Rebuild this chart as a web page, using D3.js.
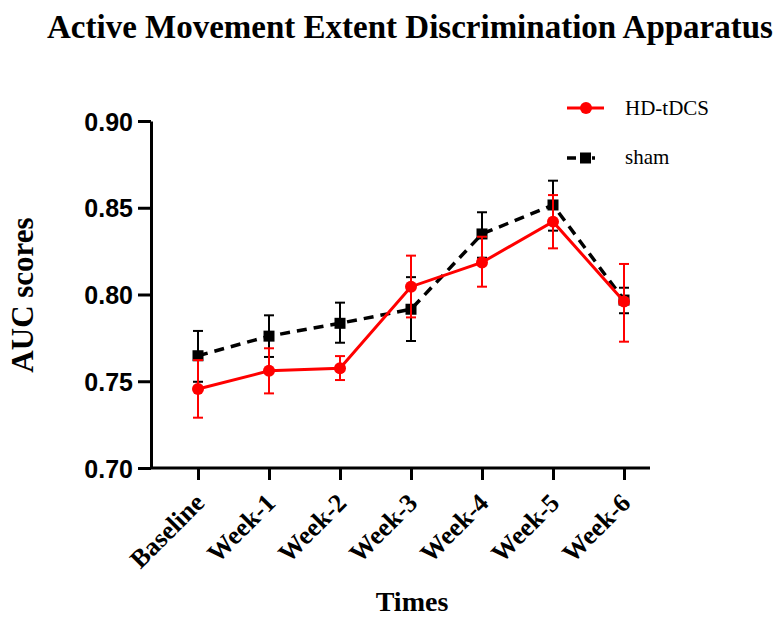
<!DOCTYPE html>
<html>
<head>
<meta charset="utf-8">
<script src="https://cdn.jsdelivr.net/npm/d3@7"></script>
<style>
body { margin: 0; background: #fff; }
</style>
</head>
<body>
<div id="vis"></div>
<script>
var w = 782;
var h = 618;

// data
var times = ["Baseline", "Week-1", "Week-2", "Week-3", "Week-4", "Week-5", "Week-6"];
var hdMean = [0.7455, 0.756, 0.7575, 0.8045, 0.8185, 0.842, 0.796];
var hdLow = [0.729, 0.743, 0.7507, 0.7868, 0.8045, 0.8266, 0.7728];
var hdHigh = [0.7622, 0.769, 0.7645, 0.8224, 0.8333, 0.8573, 0.8176];
var shamMean = [0.7647, 0.776, 0.7834, 0.7915, 0.8349, 0.8516, 0.7968];
var shamLow = [0.7497, 0.764, 0.7722, 0.7732, 0.8212, 0.8368, 0.7892];
var shamHigh = [0.779, 0.788, 0.7953, 0.810, 0.8474, 0.8656, 0.8039];
var yTicks = [0.70, 0.75, 0.80, 0.85, 0.90];

var svg = d3.select("#vis")
    .append("svg")
    .attr("width", w)
    .attr("height", h);

var x = d3.scalePoint().domain(times).range([198, 624]);
var y = d3.scaleLinear().domain([0.70, 0.90]).range([468, 121]);

var serif = "'Liberation Serif', 'Times New Roman', serif";
var sans = "'Liberation Sans', Arial, sans-serif";

// title
svg.append("text")
    .text("Active Movement Extent Discrimination Apparatus")
    .attr("x", 410)
    .attr("y", 38)
    .attr("text-anchor", "middle")
    .style("font-family", serif)
    .style("font-weight", "bold")
    .style("font-size", "33px");

// y axis
var yAxis = svg.append("g")
    .attr("transform", "translate(151,0)")
    .call(d3.axisLeft(y).tickValues(yTicks).tickFormat(d3.format(".2f")).tickSize(13).tickSizeOuter(0));
yAxis.select(".domain").attr("stroke-width", 3);
yAxis.selectAll(".tick line").attr("stroke-width", 3);
yAxis.selectAll(".tick text")
    .attr("x", -18)
    .attr("dy", "0.36em")
    .style("font-family", sans)
    .style("font-weight", "bold")
    .style("font-size", "25px")
    .attr("fill", "#000");

// x axis
var xAxis = svg.append("g")
    .attr("transform", "translate(0,468)")
    .call(d3.axisBottom(x).tickSize(12).tickSizeOuter(0));
xAxis.select(".domain").attr("d", "M150,0H650").attr("stroke-width", 3);
xAxis.selectAll(".tick line").attr("stroke-width", 3);
xAxis.selectAll(".tick text")
    .attr("transform", "translate(1,30) rotate(-45)")
    .attr("x", 0)
    .attr("y", 0)
    .attr("dy", "0.35em")
    .attr("text-anchor", "end")
    .style("font-family", serif)
    .style("font-weight", "bold")
    .style("font-size", "26px")
    .attr("fill", "#000");

// axis labels
svg.append("text")
    .text("AUC scores")
    .attr("transform", "translate(33,295) rotate(-90)")
    .attr("text-anchor", "middle")
    .style("font-family", serif)
    .style("font-weight", "bold")
    .style("font-size", "31px");

svg.append("text")
    .text("Times")
    .attr("x", 412)
    .attr("y", 611)
    .attr("text-anchor", "middle")
    .style("font-family", serif)
    .style("font-weight", "bold")
    .style("font-size", "28px");

function rows(mean, lo, hi) {
    return times.map(function(t, i) { return {t: t, m: mean[i], lo: lo[i], hi: hi[i]}; });
}
var hd = rows(hdMean, hdLow, hdHigh);
var sham = rows(shamMean, shamLow, shamHigh);

var line = d3.line().x(function(d) { return x(d.t); }).y(function(d) { return y(d.m); });

function errbars(data, color) {
    var g = svg.append("g");
    g.selectAll("line.v").data(data).enter().append("line")
        .attr("x1", function(d) { return x(d.t); })
        .attr("x2", function(d) { return x(d.t); })
        .attr("y1", function(d) { return y(d.lo); })
        .attr("y2", function(d) { return y(d.hi); })
        .attr("stroke", color).attr("stroke-width", 2);
    g.selectAll("line.top").data(data).enter().append("line")
        .attr("x1", function(d) { return x(d.t) - 5; })
        .attr("x2", function(d) { return x(d.t) + 5; })
        .attr("y1", function(d) { return y(d.hi); })
        .attr("y2", function(d) { return y(d.hi); })
        .attr("stroke", color).attr("stroke-width", 2);
    g.selectAll("line.bot").data(data).enter().append("line")
        .attr("x1", function(d) { return x(d.t) - 5; })
        .attr("x2", function(d) { return x(d.t) + 5; })
        .attr("y1", function(d) { return y(d.lo); })
        .attr("y2", function(d) { return y(d.lo); })
        .attr("stroke", color).attr("stroke-width", 2);
}

// sham
errbars(sham, "#000");
svg.append("path")
    .datum(sham)
    .attr("d", line)
    .attr("fill", "none")
    .attr("stroke", "#000")
    .attr("stroke-width", 3.5)
    .attr("stroke-dasharray", "10,7");
svg.selectAll("rect.sham").data(sham).enter().append("rect")
    .attr("class", "sham")
    .attr("x", function(d) { return x(d.t) - 5.5; })
    .attr("y", function(d) { return y(d.m) - 5.5; })
    .attr("width", 11)
    .attr("height", 11)
    .attr("fill", "#000");

// HD-tDCS
errbars(hd, "#ff0000");
svg.append("path")
    .datum(hd)
    .attr("d", line)
    .attr("fill", "none")
    .attr("stroke", "#ff0000")
    .attr("stroke-width", 3);
svg.selectAll("circle.hd").data(hd).enter().append("circle")
    .attr("class", "hd")
    .attr("cx", function(d) { return x(d.t); })
    .attr("cy", function(d) { return y(d.m); })
    .attr("r", 6)
    .attr("fill", "#ff0000");

// legend
svg.append("line")
    .attr("x1", 567).attr("x2", 604).attr("y1", 108).attr("y2", 108)
    .attr("stroke", "#ff0000").attr("stroke-width", 3);
svg.append("circle")
    .attr("cx", 586).attr("cy", 108).attr("r", 6).attr("fill", "#ff0000");
svg.append("text")
    .text("HD-tDCS")
    .attr("x", 625).attr("y", 115)
    .style("font-family", serif)
    .style("font-size", "21px");

svg.append("line")
    .attr("x1", 567).attr("x2", 604).attr("y1", 158).attr("y2", 158)
    .attr("stroke", "#000").attr("stroke-width", 3.5)
    .attr("stroke-dasharray", "9,6,4,6,3,30");
svg.append("rect")
    .attr("x", 580).attr("y", 152.5).attr("width", 11).attr("height", 11).attr("fill", "#000");
svg.append("text")
    .text("sham")
    .attr("x", 625).attr("y", 164)
    .style("font-family", serif)
    .style("font-size", "21px");
</script>
</body>
</html>
